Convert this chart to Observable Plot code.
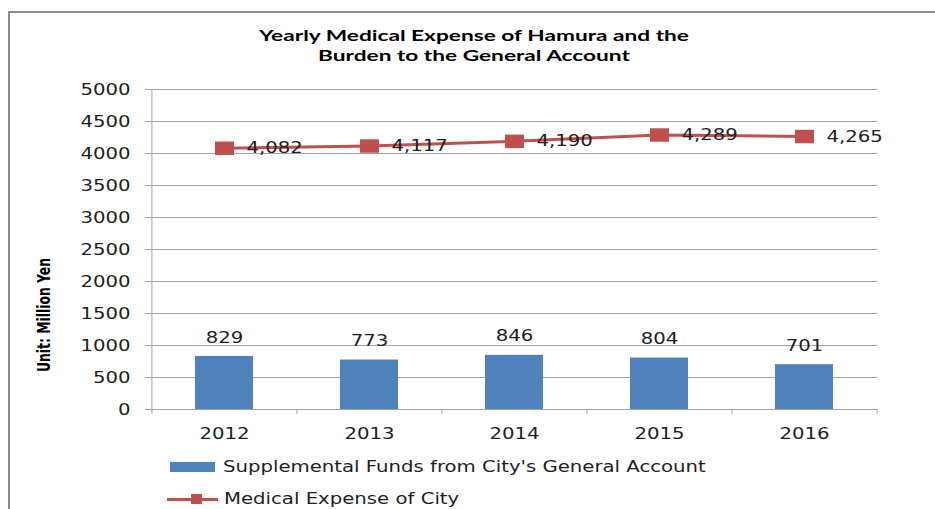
<!DOCTYPE html>
<html>
<head>
<meta charset="utf-8">
<script src="https://cdn.jsdelivr.net/npm/d3@7"></script>
<script src="https://cdn.jsdelivr.net/npm/@observablehq/plot@0.6"></script>
<style>
  body { margin: 0; background: #fff; overflow: hidden; }
  #wrap { position: relative; width: 935px; height: 509px; overflow: hidden; background: #fff; font-family: "DejaVu Sans", sans-serif; color: #1e1e1e; }
  #frame { position: absolute; left: 8px; top: 11px; width: 1000px; height: 600px; border: 2px solid #8a8a8a; box-sizing: border-box; }
  #title { position: absolute; left: 0; top: 25px; width: 948px; text-align: center; font-family: Lato, "Open Sans", sans-serif; font-weight: 700; font-size: 16px; line-height: 20px; color: #000; transform-origin: 474px 0; white-space: nowrap; }
  #ylabel { position: absolute; left: 44px; top: 315px; transform-origin: 0 0; white-space: nowrap; font-family: "Liberation Sans Narrow", "DejaVu Sans Condensed", "DejaVu Sans", sans-serif; font-stretch: condensed; font-weight: 700; font-size: 15px; line-height: 1; color: #000; }
  #chart { position: absolute; left: 0; top: 70px; }
  .lg { position: absolute; white-space: nowrap; font-size: 16px; line-height: 16px; transform-origin: 0 0; color: #1e1e1e; }
  .sw { position: absolute; }
</style>
</head>
<body>
<div id="wrap">
  <div id="frame"></div>
  <div id="title"><span id="t1">Yearly Medical Expense of Hamura and the</span><br><span id="t2">Burden to the General Account</span></div>
  <div id="ylabel"><span id="yl">Unit: Million Yen</span></div>
  <div id="chart"></div>
  <div class="sw" style="left:170px;top:462px;width:45px;height:10px;background:#4f81bd;"></div>
  <div class="lg" id="lg1" style="left:223px;top:458.5px;">Supplemental Funds from City's General Account</div>
  <div class="sw" style="left:167px;top:497.5px;width:51px;height:3px;background:#c0504d;"></div>
  <div class="sw" style="left:191px;top:494px;width:11px;height:10px;background:#c0504d;"></div>
  <div class="lg" id="lg2" style="left:224px;top:490.5px;">Medical Expense of City</div>
</div>
<script>
// ---- data ----
const years = ["2012", "2013", "2014", "2015", "2016"];
const funds = [829, 773, 846, 804, 701];          // Supplemental Funds from City's General Account
const expense = [4082, 4117, 4190, 4289, 4265];   // Medical Expense of City
const yTicks = [0, 500, 1000, 1500, 2000, 2500, 3000, 3500, 4000, 4500, 5000];

const data = years.map((year, i) => ({year, funds: funds[i], expense: expense[i]}));

// ---- layout ----
const W = 935, H = 380, ML = 151, MR = 58, MT = 19, MB = 41;
const padIn = 0.6, padOut = 0.3;
const step = (W - ML - MR) / (years.length - padIn + 2 * padOut);
const SX = 1.23; // horizontal text stretch of the reference
const red = "#c0504d", blue = "#4f81bd", grid = "#a3a3a3";
const fmt = d3.format(",");
const markerSymbol = {draw(ctx) { const w = 19, h = 13.5; ctx.rect(-w / 2, -h / 2, w, h); }};
const yMax = yTicks[yTicks.length - 1];
const tickDepth = -(5 / ((H - MT - MB) / yMax)); // 5px below the axis, in data units

const chart = Plot.plot({
  width: W, height: H,
  marginLeft: ML, marginRight: MR, marginTop: MT, marginBottom: MB,
  style: {fontFamily: "DejaVu Sans, sans-serif", fontSize: "16px", color: "#1e1e1e", background: "transparent"},
  x: {domain: years, paddingInner: padIn, paddingOuter: padOut},
  y: {domain: [0, yMax]},
  marks: [
    Plot.gridY(yTicks, {stroke: grid, strokeOpacity: 1}),
    Plot.barY(data, {x: "year", y: "funds", fill: blue}),
    Plot.ruleY([0], {stroke: grid}),
    // y axis line
    Plot.ruleX(years.slice(0, 1), {x: d => d, y1: 0, y2: yMax, dx: -step / 2, stroke: grid}),
    // category boundary ticks below the x axis
    Plot.ruleX(years, {x: d => d, y1: 0, y2: tickDepth, dx: -step / 2, stroke: grid}),
    Plot.ruleX(years.slice(-1), {x: d => d, y1: 0, y2: tickDepth, dx: step / 2, stroke: grid}),
    Plot.axisY(yTicks, {tickSize: 6, tickPadding: 15, stroke: grid, fill: "#1e1e1e", label: null, tickFormat: d => String(d)}),
    Plot.axisX({tickSize: 0, tickPadding: 18, fill: "#1e1e1e", label: null}),
    Plot.line(data, {x: "year", y: "expense", stroke: red, strokeWidth: 3}),
    Plot.dot(data, {x: "year", y: "expense", symbol: markerSymbol, r: 9, fill: red, stroke: "none"}),
    Plot.text(data, {x: "year", y: "expense", text: d => fmt(d.expense), dx: 22, textAnchor: "start", lineAnchor: "middle", fill: "#1e1e1e"}),
    Plot.text(data, {x: "year", y: "funds", text: d => String(d.funds), dy: -19, lineAnchor: "middle", fill: "#1e1e1e"})
  ]
});
document.getElementById("chart").appendChild(chart);

// stretch every text horizontally, as in the reference image
chart.querySelectorAll("text").forEach(t => {
  const L = t.getComputedTextLength();
  if (L > 0) {
    t.setAttribute("textLength", (L * SX).toFixed(2));
    t.setAttribute("lengthAdjust", "spacingAndGlyphs");
  }
});

// title scaling
const t1 = document.getElementById("t1");
const tw = t1.getBoundingClientRect().width;
document.getElementById("title").style.transform = `scaleX(${430 / tw})`;

// y label
const yl = document.getElementById("yl");
const yw = yl.getBoundingClientRect().width;
document.getElementById("ylabel").style.transform = `rotate(-90deg) scale(${114 / yw},1.23) translate(-50%,-50%)`;

// legend texts
document.querySelectorAll(".lg").forEach(el => { el.style.transform = `scaleX(${SX})`; });
</script>
</body>
</html>
